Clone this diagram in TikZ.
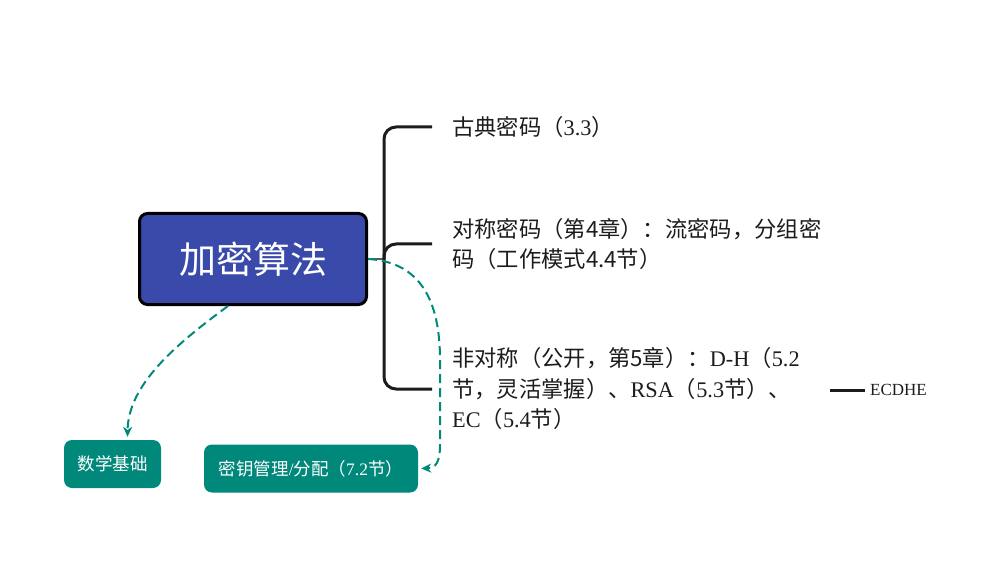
\documentclass[tikz,border=0pt]{standalone}
\usepackage{fontspec}
\setmainfont{Liberation Serif}
\newfontfamily\cjk{Noto Sans CJK SC}
\usetikzlibrary{arrows.meta}
\definecolor{rootblue}{RGB}{58,74,170}
\definecolor{tealcolor}{RGB}{0,137,123}
\definecolor{inkcolor}{RGB}{28,28,28}
\definecolor{stemgray}{RGB}{90,90,90}

\begin{document}
\begin{tikzpicture}[x=1pt, y=-1pt, >=Stealth]

\tikzset{
  rootbox/.style={draw=black, line width=3pt, fill=rootblue, rounded corners=8pt, minimum width=227pt, minimum height=91pt, text=white, font=\cjk\fontsize{37}{40}\selectfont},
  topic/.style={anchor=west, inner sep=0pt, align=left, text=inkcolor, font=\fontsize{22.3}{30.5}\selectfont},
  branch/.style={line width=3pt, rounded corners=12pt, draw=inkcolor},
  tealbox/.style={fill=tealcolor, rounded corners=8pt, text=white, minimum height=48pt, font=\fontsize{17.5}{20}\selectfont},
  link/.style={-{Stealth[length=10pt, width=9pt]}, draw=tealcolor, line width=2pt, dash pattern=on 9pt off 5pt, shorten >=3pt}
}

% Page size
\useasboundingbox (0,0) rectangle (995,569);

% Positions
\def\spinex{384}
\def\textx{452}

% Central topic
\node[rootbox] (root) at (253,259) {加密算法};

% Subtopics
\node[topic] (classic) at (\textx,127) {{\cjk 古典密码（}3.3{\cjk ）}};
\node[topic] (symm) at (\textx,244) {{\cjk 对称密码（第4章）：流密码，分组密}\\{\cjk 码（工作模式4.4节）}};
\node[topic] (asymm) at (\textx,389) {{\cjk 非对称（公开，第5章）：}D-H{\cjk （}5.2\\{\cjk 节，灵活掌握）、}RSA{\cjk （}5.3{\cjk 节）、}\\EC{\cjk （}5.4{\cjk 节）}};
\node[anchor=west, inner sep=0pt, text=inkcolor, font=\fontsize{17}{20}\selectfont] (ecdhe) at (870,390) {ECDHE};

% Floating topics
\node[tealbox, minimum width=97pt] (math) at (112.5,464) {\cjk 数学基础};
\node[tealbox, minimum width=214pt] (keymgmt) at (311,468.5) {{\cjk 密钥管理}/{\cjk 分配（}7.2{\cjk 节）}};

% Branches
\coordinate (spine) at (\spinex,259);
\draw[line width=1.5pt, draw=stemgray] (root.east) -- (spine);
\draw[branch] (spine) |- ([xshift=-20pt]classic.west);
\draw[branch] (spine) |- ([xshift=-20pt]symm.west);
\draw[branch] (spine) |- ([xshift=-20pt]asymm.west);
\draw[line width=3pt, draw=inkcolor] ([xshift=-40pt]ecdhe.west) -- ([xshift=-5pt]ecdhe.west);

% Dashed relations
\draw[link] ([xshift=-25pt]root.south) .. controls (175,345) and (128,385) .. ([xshift=15pt]math.north);
\draw[link] (root.east) .. controls (420,262) and (440,300) .. (440,360) -- (440,445) .. controls (440,462) and (436,468) .. (keymgmt.east);

\end{tikzpicture}
\end{document}
